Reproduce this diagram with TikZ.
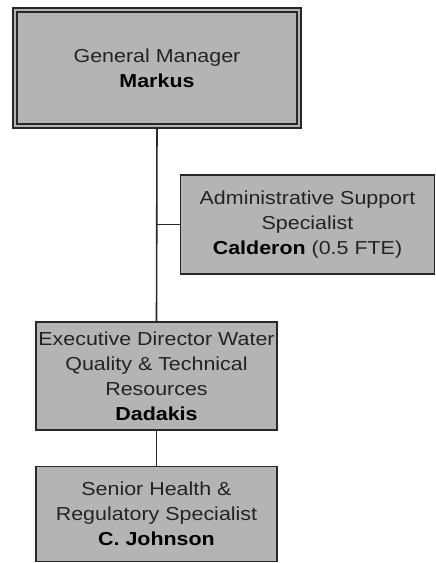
\documentclass[tikz,border=0pt]{standalone}
\usepackage{fontspec}
\setmainfont{Liberation Sans}[FakeStretch=1.14]
\definecolor{boxgray}{RGB}{180,180,180}
\definecolor{edgegray}{RGB}{40,40,40}
\definecolor{textgray}{RGB}{35,35,35}
\begin{document}
\begin{tikzpicture}[x=1pt,y=-1pt,
  orgbox/.style={draw=edgegray, line width=1.6pt, fill=boxgray, rectangle,
    inner sep=0pt, align=center, text=textgray,
    font=\fontsize{18.8}{25}\selectfont},
  topbox/.style={orgbox, double=boxgray, double distance=2.4pt, line width=1.5pt},
  link/.style={draw=edgegray, line width=1.6pt}]
\useasboundingbox (0,0) rectangle (436,563);

% General manager (double frame)
\node[topbox, minimum width=284pt, minimum height=116pt] (gm) at (157,68)
  {General Manager\\ \textbf{\color{black}Markus}};

% Staff position beside the main line
\node[orgbox, minimum width=254pt, minimum height=99pt] (admin) at (307.5,224.5)
  {Administrative Support\\ Specialist\\ \textbf{\color{black}Calderon} (0.5 FTE)};

% Line positions
\node[orgbox, minimum width=241pt, minimum height=108pt] (exec) at (156.5,376)
  {Executive Director Water\\ Quality \& Technical\\ Resources\\ \textbf{\color{black}Dadakis}};

\node[orgbox, minimum width=241pt, minimum height=95pt] (senior) at (156.5,514)
  {Senior Health \&\\ Regulatory Specialist\\ \textbf{\color{black}C. Johnson}};

% Connectors
\coordinate (tee) at (gm.south |- admin.west);
\draw[link] (gm.south) -- (exec.north);
\draw[link] (tee) -- (admin.west);
\draw[link] (exec.south) -- (senior.north);
\end{tikzpicture}
\end{document}
